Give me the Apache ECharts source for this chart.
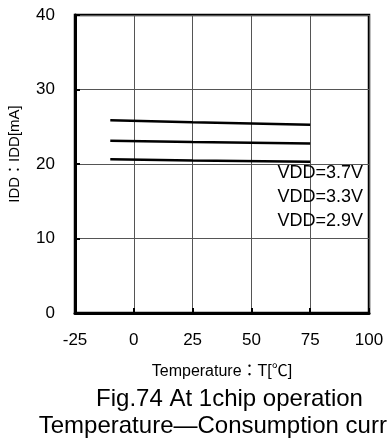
<!DOCTYPE html>
<html>
<head>
<meta charset="utf-8">
<script src="https://cdn.jsdelivr.net/npm/echarts@6/dist/echarts.min.js"></script>
<style>
html,body{margin:0;padding:0;background:#fff;}
#c{width:387px;height:444px;}
</style>
</head>
<body>
<div id="c"></div>
<script>
var temps = [-10, 25, 75];
var seriesNames = ['VDD=3.7V', 'VDD=3.3V', 'VDD=2.9V'];
var idd37 = [25.87, 25.6, 25.27];
var idd33 = [23.13, 22.95, 22.74];
var idd29 = [20.63, 20.47, 20.31];
var xTicks = [-25, 0, 25, 50, 75, 100];
var yTicks = [0, 10, 20, 30, 40];
var xName = 'Temperature：T[℃]';
var yName = 'IDD：IDD[mA]';
var titleLines = ['Fig.74 At 1chip operation', 'Temperature—Consumption current'];

var font = '"Liberation Sans", Arial, "Noto Sans CJK JP", sans-serif';
var chart = echarts.init(document.getElementById('c'), null, {renderer: 'canvas'});
function pairs(vals){ return temps.map(function(t,i){ return [t, vals[i]]; }); }
var allVals = [idd37, idd33, idd29];
var series = seriesNames.map(function(n, i){
  return {
    name: n, type: 'line', data: pairs(allVals[i]), symbol: 'none',
    lineStyle: {color: '#000', width: 2.5}, silent: true, z: 5
  };
});
chart.setOption({
  animation: false,
  textStyle: {fontFamily: font},
  grid: {left: 75, right: 18, top: 15, bottom: 131, show: true, borderColor: '#000', borderWidth: 2.5},
  xAxis: {
    type: 'value', min: xTicks[0], max: xTicks[xTicks.length-1], interval: 25,
    axisLine: {onZero: false, lineStyle: {color: '#000', width: 3}},
    axisTick: {show: true, inside: true, length: 5, lineStyle: {color: '#000', width: 2}},
    axisLabel: {color: '#000', fontSize: 17, margin: 19, fontFamily: font},
    splitLine: {show: true, lineStyle: {color: '#555', width: 1}}
  },
  yAxis: {
    type: 'value', min: yTicks[0], max: yTicks[yTicks.length-1], interval: 10,
    axisLine: {show: true, onZero: false, lineStyle: {color: '#000', width: 3}},
    axisTick: {show: true, inside: true, length: 5, lineStyle: {color: '#000', width: 2}},
    axisLabel: {color: '#000', fontSize: 17, margin: 20, fontFamily: font},
    splitLine: {show: true, lineStyle: {color: '#555', width: 1}}
  },
  series: series,
  graphic: seriesNames.map(function(n, i){
    return {
      type: 'text', right: 24, top: 164 + i*24, z: 10, silent: true,
      style: {text: n, fill: '#000', font: '18px ' + font}
    };
  }).concat([{
    type: 'text', x: 229.5, y: 386, z: 10, silent: true,
    style: {text: titleLines.join('\n'), fill: '#000', font: '24px ' + font,
            textAlign: 'center', textVerticalAlign: 'top', lineHeight: 27}
  }, {
    type: 'text', x: 222, y: 372, z: 10, silent: true,
    style: {text: xName, fill: '#000', font: '16px ' + font,
            textAlign: 'center', textVerticalAlign: 'middle'}
  }, {
    type: 'text', x: 15, y: 154, rotation: Math.PI / 2, z: 10, silent: true,
    style: {text: yName, fill: '#000', font: '15px ' + font,
            textAlign: 'center', textVerticalAlign: 'middle'}
  }])
});
</script>
</body>
</html>
